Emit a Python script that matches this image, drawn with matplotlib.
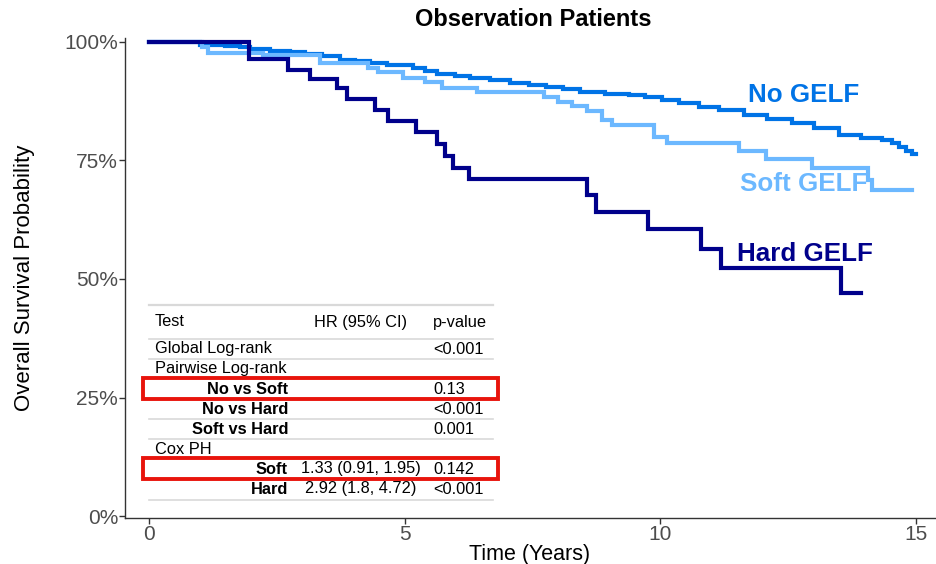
import matplotlib
matplotlib.use("Agg")
import matplotlib.pyplot as plt
from matplotlib.lines import Line2D
from matplotlib.patches import Rectangle
from matplotlib.ticker import FuncFormatter

plt.rcParams['font.family'] = ['Liberation Sans', 'DejaVu Sans']

# Kaplan-Meier step points (years, survival %)
no_t = [0, 1.0, 1.48, 1.78, 1.97, 2.36, 2.75, 3.05, 3.38, 3.73, 4.02, 4.32, 4.65,
        5.16, 5.39, 5.63, 5.98, 6.27, 6.66, 7.05, 7.44, 7.77, 8.09, 8.42, 8.91,
        9.39, 9.69, 10.04, 10.37, 10.76, 11.15, 11.64, 12.09, 12.58, 13.0, 13.5,
        13.93, 14.34, 14.53, 14.67, 14.8, 14.92, 15.0]
no_s = [100, 99.4, 99.2, 99.0, 98.5, 98.2, 97.9, 97.5, 97.0, 96.2, 95.9, 95.6, 95.1,
        94.5, 93.9, 93.2, 92.8, 92.4, 91.9, 91.4, 90.9, 90.5, 90.0, 89.5, 89.1,
        88.8, 88.3, 87.8, 87.1, 86.3, 85.6, 84.6, 83.8, 82.9, 81.8, 80.4,
        79.8, 79.3, 78.6, 77.8, 77.0, 76.4, 76.4]

soft_t = [0, 1.03, 1.15, 2.23, 3.34, 4.28, 4.47, 4.96, 5.39, 5.72, 6.41, 7.73, 8.0,
          8.28, 8.57, 8.85, 9.06, 9.88, 10.12, 11.54, 12.07, 12.97, 14.06, 14.14, 14.92]
soft_s = [100, 99.0, 97.7, 97.2, 95.5, 94.5, 93.7, 92.4, 91.6, 90.3, 89.5, 88.4, 87.3,
          86.5, 85.4, 83.5, 82.5, 80.0, 78.7, 77.0, 75.3, 73.4, 70.9, 68.8, 68.8]

hard_t = [0, 1.95, 2.71, 3.14, 3.67, 3.87, 4.41, 4.67, 5.23, 5.64, 5.78, 5.94, 6.25,
          8.57, 8.75, 9.75, 10.80, 11.19, 13.54, 13.93]
hard_s = [100, 96.4, 94.1, 92.2, 90.3, 88.0, 85.6, 83.3, 81.0, 78.5, 76.0, 73.4, 71.1,
          67.7, 64.1, 60.5, 56.3, 52.3, 47.0, 47.0]

groups = ["No GELF", "Soft GELF", "Hard GELF"]
colors = ["#0073E6", "#6CB8FF", "#00008B"]
label_x = [11.72, 11.56, 11.50]
label_y = [88.8, 70.0, 55.3]

# stats table
tab_header = ["Test", "HR (95% CI)", "p-value"]
tab_labels = ["Global Log-rank", "Pairwise Log-rank", "No vs Soft", "No vs Hard",
              "Soft vs Hard", "Cox PH", "Soft", "Hard"]
tab_bold = [False, False, True, True, True, False, True, True]
tab_hr = ["", "", "", "", "", "", "1.33 (0.91, 1.95)", "2.92 (1.8, 4.72)"]
tab_p = ["<0.001", "", "0.13", "<0.001", "0.001", "", "0.142", "<0.001"]
highlight = [2, 6]

W, H = 937, 564
fig = plt.figure(figsize=(W / 100, H / 100), dpi=100)
ax = fig.add_axes([125 / W, (H - 518) / H, (935 - 125) / W, (518 - 38) / H])

for t, s, c in zip([no_t, soft_t, hard_t], [no_s, soft_s, hard_s], colors):
    ax.step(t, [v / 100 for v in s], where='post', color=c, lw=3, solid_joinstyle='miter')

for g, c, x, y in zip(groups, colors, label_x, label_y):
    ax.text(x, y / 100, g, color=c, fontsize=18.7, fontweight='bold', ha='left', va='center')

ax.set_xlim(-0.469, 15.37)
ax.set_ylim(-0.0042, 1.0084)
ax.set_xticks([0, 5, 10, 15])
ax.set_yticks([0, 0.25, 0.5, 0.75, 1.0])
ax.yaxis.set_major_formatter(FuncFormatter(lambda v, p: '%d%%' % round(v * 100)))
ax.tick_params(colors='#333333', labelcolor='#4D4D4D', labelsize=15, length=4, width=1)
ax.tick_params(axis='x', pad=1)
ax.tick_params(axis='y', pad=1)
for sp in ['top', 'right']:
    ax.spines[sp].set_visible(False)
for sp in ['left', 'bottom']:
    ax.spines[sp].set_color('#333333')
    ax.spines[sp].set_linewidth(1)
ax.set_xlabel('Time (Years)', fontsize=15.5, labelpad=0)
ax.set_ylabel('Overall Survival Probability', fontsize=16, labelpad=21)
fig.text(533 / W, 1 - 20 / H, 'Observation Patients', fontsize=17, fontweight='bold',
         ha='center', va='center')


def fx(px):
    return px / W


def fy(py):
    return 1 - py / H


# table grid lines
line_y = [305, 339, 359, 379, 399, 419, 439, 459, 479, 500]
for i, ly in enumerate(line_y):
    fig.add_artist(Line2D([fx(149), fx(493)], [fy(ly), fy(ly)], color='#D9D9D9',
                          lw=1.6 if i == 0 else 1.2))

fs = 11.8
fig.text(fx(155), fy(322), tab_header[0], fontsize=fs, ha='left', va='center')
fig.text(fx(361), fy(322), tab_header[1], fontsize=fs, ha='center', va='center')
fig.text(fx(433), fy(322), tab_header[2], fontsize=fs, ha='left', va='center')

row_y = [349, 369, 389, 409, 429, 449, 469, 489]
for lab, b, hr, p, ry in zip(tab_labels, tab_bold, tab_hr, tab_p, row_y):
    if b:
        fig.text(fx(288), fy(ry), lab, fontsize=fs, fontweight='bold', ha='right', va='center')
    else:
        fig.text(fx(155), fy(ry), lab, fontsize=fs, ha='left', va='center')
    if hr:
        fig.text(fx(361), fy(ry), hr, fontsize=fs, ha='center', va='center')
    if p:
        fig.text(fx(433), fy(ry), p, fontsize=fs, ha='left', va='center')

# red highlight boxes, white inside so row rules under them do not show
for i in highlight:
    ry = row_y[i]
    fig.add_artist(Rectangle((fx(143), fy(ry + 10)), fx(498) - fx(143), 21 / H,
                             facecolor='white', edgecolor='#E8140C', lw=2.8, zorder=2.5))

fig.savefig('out.png', dpi=100)
